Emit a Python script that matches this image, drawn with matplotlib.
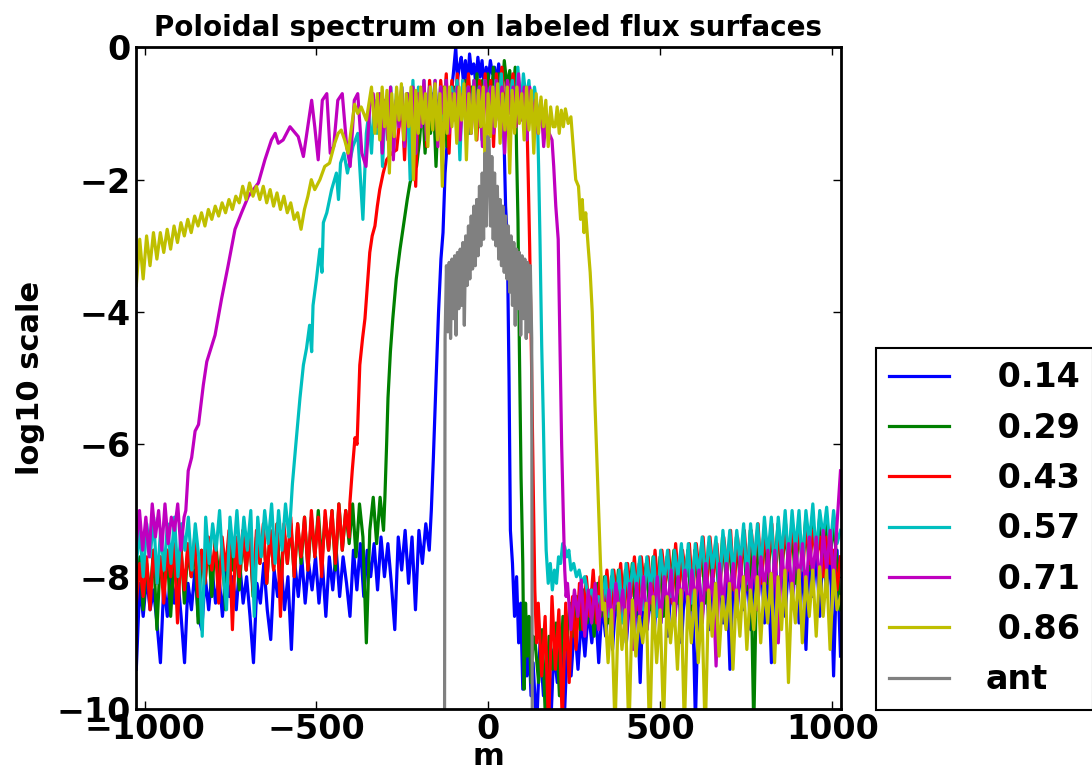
import numpy as np
import matplotlib
matplotlib.use("Agg")
import matplotlib.pyplot as plt

# surfaces (legend labels) and colours
labels = [" 0.14", " 0.29", " 0.43", " 0.57", " 0.71", " 0.86", "ant"]
colors = ["#0000ff", "#008000", "#ff0000", "#00bfbf", "#bf00bf", "#bfbf00", "#808080"]

# each spectrum: pieces are either (m_start, m_end, values on a regular m grid)
# or a list of (m, value) points
blue = [
    (-1024, -172, [-9.4, -8.1, -8.6, -8.0, -8.5, -8.2, -8.7, -9.3, -8.1, -8.6,
                   -7.9, -8.4, -8.0, -8.6, -9.3, -8.1, -8.5, -7.9, -8.6, -8.8,
                   -8.0, -8.5, -7.9, -8.4, -8.0, -8.6, -7.9, -8.3, -8.0, -8.5,
                   -7.8, -8.4, -8.0, -8.6, -9.3, -8.1, -8.4, -7.8, -8.5, -8.95,
                   -7.9, -8.3, -7.8, -8.5, -8.0, -9.1, -7.8, -8.3, -7.7, -8.4,
                   -7.8, -8.2, -7.7, -8.4, -7.8, -8.6, -7.7, -8.2, -7.6, -8.3,
                   -7.7, -8.1, -8.6, -7.6, -8.2, -7.5, -8.3, -7.6, -8.0, -7.5,
                   -8.2, -7.4, -8.0, -7.5, -8.1, -8.8, -7.4, -7.9, -7.3, -8.1,
                   -7.4, -8.5, -7.3, -7.8, -7.2, -7.6]),
    [(-166, -7.0), (-160, -6.2), (-152, -5.0), (-145, -4.0), (-138, -3.2), (-132, -2.8),
     (-126, -1.9), (-118, -1.3), (-110, -0.8), (-102, -0.4), (-95, 0.0), (-90, -0.5)],
    (-85, 42, [-0.3, -0.15, -0.5, -0.2, -0.6, -0.1, -0.4, -0.25, -0.55, -0.15, -0.45, -0.2,
               -0.6, -0.3, -0.5, -0.2, -0.4, -0.3, -0.55, -0.25, -0.5, -0.7]),
    [(46, -1.5), (50, -2.4), (55, -2.9), (60, -5.0), (64, -7.3), (70, -7.8), (76, -8.6),
     (82, -8.0), (88, -9.0), (94, -8.4), (100, -9.7), (106, -8.8), (112, -9.5), (118, -9.0),
     (124, -9.8)],
    (130, 1024, [-9.3, -10.3, -9.0, -9.8, -9.2, -10.4, -9.1, -9.6, -9.0, -10.2,
                 -8.9, -9.5, -8.7, -9.4, -8.6, -9.2, -8.5, -9.0, -8.4, -9.3,
                 -8.4, -8.9, -8.3, -9.1, -8.3, -8.8, -8.2, -9.0, -8.3, -8.7,
                 -8.2, -9.6, -8.1, -8.8, -8.2, -8.9, -8.1, -8.7, -8.0, -8.9,
                 -8.1, -8.6, -8.0, -9.0, -8.0, -8.7, -7.9, -10.2, -8.0, -8.6,
                 -7.9, -8.8, -8.0, -8.5, -7.9, -8.7, -7.9, -9.4, -7.9, -8.6,
                 -7.8, -8.5, -7.9, -8.8, -7.8, -8.5, -7.7, -8.7, -7.8, -9.3,
                 -7.7, -8.4, -7.8, -8.6, -7.7, -8.4, -7.6, -8.7, -7.7, -9.1,
                 -7.6, -8.3, -7.6, -8.6, -7.5, -8.3, -7.5, -9.5, -7.6, -9.2]),
]

green = [
    (-1024, -305, [-8.2, -7.7, -8.5, -7.8, -8.3, -7.6, -8.8, -7.7, -8.2, -7.6,
                   -8.6, -7.7, -8.1, -7.5, -8.4, -7.6, -8.0, -7.5, -8.7, -7.6,
                   -8.1, -7.5, -8.3, -7.4, -8.0, -7.6, -8.5, -7.4, -7.9, -7.5,
                   -8.2, -7.4, -7.9, -7.3, -8.3, -7.4, -7.8, -7.3, -8.1, -7.3,
                   -7.9, -7.2, -8.2, -7.3, -7.8, -7.2, -8.0, -7.2, -7.8, -7.1,
                   -7.9, -7.1, -7.7, -7.0, -7.8, -7.1, -7.6, -7.0, -7.9, -6.9,
                   -7.6, -7.0, -7.5, -6.9, -7.7, -6.9, -7.4, -9.0, -7.3, -6.8,
                   -7.5, -6.8, -7.3]),
    [(-301, -6.8), (-296, -6.0), (-292, -5.3), (-285, -4.6), (-278, -4.1), (-268, -3.5),
     (-257, -3.05), (-250, -2.8), (-243, -2.55), (-236, -2.3), (-228, -2.05), (-218, -1.85),
     (-209, -1.8)],
    (-200, 78, [-1.4, -0.8, -1.6, -0.9, -1.3, -0.7, -1.8, -0.8, -1.2, -0.6, -1.5, -0.7,
                -1.1, -0.6, -1.4, -0.7, -1.0, -0.5, -1.3, -0.6, -0.9, -0.4, -1.2, -0.5,
                -0.8, -0.4, -1.0, -0.3, -0.7, -0.4, -0.9, -0.2, -0.6, -0.35, -0.8, -0.3]),
    [(82, -1.6), (86, -2.6), (90, -4.5), (95, -6.5), (100, -7.8), (104, -9.7), (108, -8.4),
     (113, -9.2), (118, -8.6), (124, -9.6), (130, -8.9)],
    (136, 1024, [-9.0, -9.6, -8.8, -10.2, -8.9, -9.4, -8.7, -9.8, -8.6, -9.1,
                 -8.4, -8.9, -8.3, -8.8, -8.2, -8.7, -8.2, -8.9, -8.1, -8.6,
                 -8.0, -8.7, -8.0, -8.5, -7.9, -8.6, -7.9, -8.4, -7.8, -8.6,
                 -7.8, -8.3, -7.8, -8.5, -7.7, -8.3, -7.7, -8.6, -7.7, -8.2,
                 -7.6, -8.4, -7.7, -8.2, -7.6, -8.5, -7.6, -8.1, -7.5, -8.4,
                 -7.5, -8.1, -7.5, -8.3, -7.4, -8.0, -7.5, -8.2, -7.4, -8.0,
                 -7.4, -8.2, -7.3, -10.3, -7.4, -7.9, -7.3, -8.1, -7.3, -7.9,
                 -7.2, -8.0, -7.3, -7.8, -7.2, -8.1, -7.2, -7.8, -7.1, -7.9,
                 -7.2, -7.7, -7.1, -7.9, -7.1, -7.7, -7.2, -7.8, -8.5]),
]

red = [
    (-1024, -405, [-8.4, -7.8, -8.3, -7.7, -8.5, -7.6, -8.1, -7.7, -8.4, -7.6,
                   -8.0, -7.5, -8.7, -7.6, -8.2, -7.5, -8.0, -7.4, -8.3, -7.6,
                   -8.1, -7.4, -7.9, -7.5, -8.4, -7.4, -7.9, -7.3, -8.8, -7.4,
                   -8.0, -7.3, -7.9, -7.4, -8.2, -7.3, -7.8, -7.2, -8.1, -7.3,
                   -7.9, -7.2, -8.6, -7.2, -7.8, -7.1, -8.0, -7.2, -7.7, -7.1,
                   -7.9, -7.0, -7.7, -7.1, -8.0, -7.0, -7.6, -7.0, -7.8, -6.9,
                   -7.6, -7.0, -7.4]),
    [(-403, -6.9), (-396, -6.4), (-388, -5.9), (-382, -6.0), (-374, -4.8), (-366, -4.4),
     (-359, -4.1), (-352, -3.6), (-345, -3.1), (-338, -2.85), (-330, -2.7), (-323, -2.4),
     (-316, -2.15), (-306, -1.9), (-296, -1.7), (-282, -1.6), (-267, -1.55)],
    (-260, 112, [-1.2, -0.8, -1.7, -0.7, -1.3, -0.6, -2.1, -0.7, -1.2, -0.6, -1.5, -0.5,
                 -1.1, -0.6, -1.4, -0.5, -1.0, -0.4, -1.6, -0.5, -1.0, -0.4, -1.3, -0.5,
                 -0.9, -0.4, -1.1, -0.6, -1.4, -0.5, -0.9, -0.4, -1.2, -0.5, -1.5, -0.4,
                 -0.9, -0.3, -1.1, -0.5, -0.8, -0.4, -1.2, -0.5, -0.9, -0.6, -1.1]),
    [(116, -2.0), (120, -3.0), (125, -4.6), (130, -6.5), (135, -8.2), (140, -9.0)],
    (145, 1024, [-8.4, -9.5, -8.6, -10.3, -8.3, -9.4, -8.5, -10.2, -8.4, -9.6,
                 -8.3, -9.1, -8.1, -8.8, -8.0, -8.6, -7.9, -8.7, -8.0, -8.5,
                 -7.9, -8.6, -7.9, -8.4, -7.8, -8.6, -7.8, -8.3, -7.7, -8.5,
                 -7.7, -8.2, -7.7, -8.4, -7.6, -8.3, -7.6, -8.1, -7.6, -8.4,
                 -7.5, -8.2, -7.6, -8.0, -7.5, -8.3, -7.5, -8.0, -7.4, -8.2,
                 -7.4, -8.0, -7.5, -8.1, -7.4, -7.9, -7.3, -8.2, -7.4, -7.9,
                 -7.3, -8.0, -7.3, -7.8, -7.2, -8.1, -7.3, -7.8, -7.2, -8.0,
                 -7.3, -7.8, -7.2, -7.9, -7.2, -7.7, -7.3, -7.9, -7.2, -7.8,
                 -7.3, -7.7, -7.4, -8.0, -7.4, -7.8, -7.6, -8.2, -7.7]),
]

cyan = [
    (-1024, -580, [-7.8, -7.3, -8.0, -7.2, -7.7, -7.1, -8.1, -7.3, -7.9, -7.2,
                   -7.8, -7.1, -8.0, -7.2, -7.6, -7.1, -7.9, -7.2, -7.7, -8.9,
                   -7.1, -7.8, -7.2, -7.6, -7.0, -7.9, -8.5, -7.1, -7.7, -7.0,
                   -7.8, -7.1, -7.6, -7.0, -8.6, -7.1, -7.7, -7.0, -7.5, -6.9,
                   -7.8, -7.0, -7.6, -6.9, -7.4]),
    [(-577, -7.2), (-570, -6.6), (-560, -6.0), (-548, -5.3), (-538, -4.8), (-529, -4.55),
     (-520, -4.2), (-514, -4.6), (-510, -3.9), (-500, -3.5), (-490, -3.05), (-484, -3.4),
     (-480, -2.65), (-470, -2.5), (-456, -2.15), (-442, -1.9), (-436, -2.3), (-430, -1.75),
     (-420, -1.6), (-410, -1.9), (-394, -1.5), (-380, -1.3), (-365, -2.6), (-355, -1.3)],
    (-348, 142, [-1.0, -1.6, -0.8, -1.3, -0.7, -1.8, -0.8, -1.2, -0.6, -1.5, -0.7, -1.1,
                 -0.6, -1.4, -0.7, -2.0, -0.5, -1.6, -0.6, -1.2, -0.5, -1.4, -0.6, -1.0,
                 -0.5, -1.3, -0.6, -1.1, -0.5, -1.2, -0.6, -0.9, -0.5, -1.7, -0.5, -1.1,
                 -0.6, -1.3, -0.5, -1.0, -0.6, -1.4, -0.5, -0.9, -0.6, -1.2, -0.5, -1.0,
                 -0.4, -1.3, -0.6, -0.9, -0.5, -1.2, -0.3, -1.0, -0.4, -0.8, -0.5, -1.1,
                 -0.6, -0.9]),
    [(146, -1.8), (150, -2.9), (155, -4.5), (160, -5.7), (164, -6.8), (168, -7.6), (174, -8.1),
     (180, -7.8), (186, -8.2), (192, -7.9), (198, -8.1), (204, -7.7), (210, -7.8), (216, -7.5),
     (222, -7.55), (228, -7.7), (234, -7.6), (240, -7.9), (248, -7.8), (256, -8.0), (264, -7.9),
     (272, -8.1), (280, -8.0), (290, -8.3), (300, -8.2), (310, -8.4), (320, -8.3)],
    (330, 1024, [-8.5, -8.0, -8.6, -7.9, -8.4, -7.9, -8.7, -7.8, -8.3, -7.8,
                 -8.2, -7.7, -8.5, -7.7, -8.2, -7.7, -8.6, -7.6, -8.1, -7.6,
                 -8.3, -7.6, -8.0, -7.5, -8.2, -7.5, -8.4, -7.5, -8.0, -7.4,
                 -8.1, -7.4, -7.9, -7.4, -8.3, -7.3, -7.9, -7.3, -8.0, -7.3,
                 -7.8, -7.2, -8.1, -7.2, -7.8, -7.2, -7.9, -7.1, -7.7, -7.1,
                 -8.0, -7.1, -7.7, -7.0, -7.8, -7.0, -7.6, -7.0, -7.9, -7.0,
                 -7.5, -6.9, -7.7, -7.0, -7.4, -6.95, -7.6, -7.0, -7.5, -7.3]),
]

magenta = [
    (-1024, -885, [-7.5, -7.0, -7.6, -7.1, -7.7, -6.9, -7.4, -7.0, -7.6, -6.9, -7.5, -7.1,
                   -7.3, -6.9, -7.6, -7.1]),
    [(-880, -7.0), (-873, -6.4), (-863, -6.2), (-853, -5.8), (-843, -5.7), (-829, -5.1),
     (-819, -4.75), (-795, -4.35), (-776, -3.8), (-757, -3.3), (-737, -2.75), (-718, -2.5),
     (-698, -2.25), (-669, -2.05), (-650, -1.7), (-631, -1.4), (-620, -1.3), (-611, -1.45),
     (-597, -1.4), (-577, -1.2), (-553, -1.35), (-538, -1.65), (-528, -1.3), (-514, -0.8),
     (-505, -1.2), (-495, -1.7), (-483, -0.8), (-470, -0.7), (-460, -1.6), (-450, -1.5),
     (-438, -0.8), (-425, -0.7), (-412, -1.5), (-402, -1.8), (-390, -0.8), (-380, -0.7),
     (-368, -1.6), (-356, -1.8), (-345, -0.9), (-335, -0.7)],
    (-325, 185, [-1.2, -0.7, -1.6, -0.8, -1.4, -0.6, -1.7, -0.8, -1.2, -0.6, -1.5, -0.7,
                 -1.1, -0.6, -1.6, -0.7, -1.2, -0.5, -1.4, -0.6, -1.1, -0.5, -1.5, -0.6,
                 -1.0, -0.5, -1.3, -0.7, -1.1, -0.6, -1.4, -0.7, -1.0, -0.6, -1.3, -0.5,
                 -1.2, -0.6, -1.5, -0.5, -1.0, -0.6, -1.3, -0.5, -1.1, -0.6, -1.6, -0.5,
                 -1.0, -0.6, -1.2, -0.4, -1.1, -0.6, -1.4, -0.6, -1.0, -0.8, -1.3, -0.8,
                 -1.5, -1.0, -1.3, -1.4]),
    [(190, -1.8), (196, -2.4), (203, -2.9), (208, -4.5), (213, -6.0), (218, -7.1), (222, -7.9),
     (226, -8.3)],
    (230, 1024, [-8.1, -8.8, -8.2, -8.6, -8.05, -8.9, -8.2, -8.7, -8.1, -8.8,
                 -8.2, -8.7, -8.2, -8.8, -8.1, -8.6, -8.2, -8.9, -8.1, -9.1,
                 -8.1, -8.6, -8.0, -8.8, -8.1, -8.5, -8.0, -8.7, -8.0, -8.5,
                 -7.9, -8.7, -8.0, -8.4, -7.9, -8.6, -7.9, -8.4, -7.9, -8.7,
                 -7.8, -8.4, -7.9, -9.35, -7.8, -8.5, -7.8, -8.3, -7.8, -8.6,
                 -7.7, -8.4, -7.8, -8.3, -7.7, -8.5, -7.7, -8.2, -7.6, -8.4,
                 -7.6, -9.0, -7.6, -8.2, -7.5, -8.4, -7.5, -8.1, -7.5, -8.3,
                 -7.4, -8.0, -7.4, -8.2, -7.3, -7.9, -7.3, -8.1, -7.2, -6.4]),
]

yellow = [
    (-1024, -505, [-3.6, -2.9, -3.5, -2.85, -3.3, -2.8, -3.2, -2.8, -3.1, -2.75,
                   -3.05, -2.7, -2.95, -2.65, -2.85, -2.6, -2.8, -2.55, -2.7, -2.5,
                   -2.7, -2.45, -2.6, -2.4, -2.55, -2.35, -2.5, -2.3, -2.45, -2.25,
                   -2.35, -2.1, -2.3, -2.05, -2.25, -2.1, -2.3, -2.1, -2.35, -2.15,
                   -2.4, -2.2, -2.45, -2.25, -2.5, -2.35, -2.6, -2.5, -2.75, -2.45,
                   -2.25, -2.0, -2.15]),
    [(-490, -2.0), (-476, -1.8), (-462, -1.75), (-447, -1.45), (-437, -1.3), (-428, -1.25),
     (-418, -1.4), (-408, -1.6), (-398, -1.2), (-389, -0.86), (-380, -1.0), (-370, -0.9),
     (-355, -1.1), (-340, -0.6)],
    (-330, 188, [-1.3, -0.7, -1.4, -0.6, -1.2, -0.65, -1.9, -0.7, -1.35, -0.6,
                 -1.1, -0.55, -1.4, -0.7, -1.2, -0.6, -2.0, -0.65, -1.3, -0.6,
                 -1.15, -0.7, -1.5, -0.6, -1.25, -0.55, -1.4, -0.7, -2.1, -0.6,
                 -1.3, -0.6, -1.2, -0.7, -1.45, -0.6, -1.1, -0.55, -1.7, -0.7,
                 -1.3, -0.6, -1.4, -0.65, -1.2, -0.6, -2.2, -0.7, -1.35, -0.6,
                 -1.2, -0.55, -1.45, -0.7, -1.25, -0.6, -1.9, -0.65, -1.3, -0.6,
                 -1.15, -0.7, -1.4, -0.6, -1.25, -0.65, -1.6, -0.7, -1.3, -0.75,
                 -1.2, -0.8, -1.5, -0.9, -1.2]),
    [(194, -1.2), (200, -0.9), (206, -1.3), (212, -0.95), (218, -1.2), (224, -0.93),
     (232, -1.15), (240, -1.05), (248, -1.6), (254, -2.0), (262, -2.1), (268, -2.6),
     (273, -2.3), (278, -2.8), (283, -2.5), (290, -3.0), (296, -3.4), (302, -4.0),
     (310, -5.4), (318, -6.6), (326, -7.8), (332, -8.5)],
    (338, 1024, [-8.4, -9.3, -8.5, -10.3, -8.4, -9.1, -8.5, -10.4, -8.35, -9.2,
                 -8.6, -9.0, -8.4, -10.5, -8.3, -9.3, -8.5, -10.2, -8.3, -9.0,
                 -8.4, -9.4, -8.2, -10.3, -8.3, -9.0, -8.2, -9.3, -8.4, -10.4,
                 -8.2, -8.9, -8.1, -9.2, -8.3, -8.8, -8.1, -9.4, -8.2, -8.9,
                 -8.0, -9.1, -8.2, -8.8, -8.0, -9.0, -8.1, -8.7, -7.95, -9.3,
                 -8.0, -8.8, -7.9, -9.6, -8.1, -8.7, -7.9, -9.0, -8.0, -8.6,
                 -7.9, -8.9, -7.85, -8.6, -7.9, -9.1, -7.9, -8.5, -8.3]),
]

antenna = [
    [(-128, -12.0)],
    (-126, 126, [-4.4, -3.3, -4.3, -3.25, -4.4, -3.2, -4.1, -3.15, -4.35, -3.1, -3.95, -3.05, -3.9,
                 -2.95, -4.2, -2.85, -3.6, -2.7, -3.5, -2.55, -3.35, -2.4, -3.3, -2.3, -3.15, -2.1,
                 -3.0, -1.9, -2.9, -1.6, -2.7, -1.35, -1.4, -2.7, -1.65, -2.9, -1.9, -3.0, -2.1, -3.2,
                 -2.3, -3.3, -2.4, -3.4, -2.55, -3.5, -2.7, -3.7, -2.85, -3.9, -2.95, -4.2, -3.05,
                 -3.95, -3.1, -4.35, -3.15, -4.1, -3.2, -4.4, -3.25, -4.3, -3.3, -4.4]),
    [(128, -12.0)],
]

series = [blue, green, red, cyan, magenta, yellow, antenna]


def build(pieces):
    ms, ys = [], []
    for p in pieces:
        if isinstance(p, tuple):
            m0, m1, vals = p
            ms.extend(np.linspace(m0, m1, len(vals)))
            ys.extend(vals)
        else:
            for m, v in p:
                ms.append(m)
                ys.append(v)
    return np.array(ms), np.array(ys)


plt.rcParams['font.family'] = ['DejaVu Sans']
plt.rcParams['font.weight'] = 'bold'

fig = plt.figure(figsize=(10.92, 7.76), dpi=100)
ax = fig.add_axes([0.1245, 0.0863, 0.6455, 0.8527])

for pieces, lab, col in zip(series, labels, colors):
    m, y = build(pieces)
    ax.plot(m, y, color=col, lw=2.3, label=lab)

ax.set_xlim(-1025, 1025)
ax.set_ylim(-10, 0)
ax.set_xticks([-1000, -500, 0, 500, 1000])
ax.set_yticks([0, -2, -4, -6, -8, -10])
ax.tick_params(direction='in', top=True, right=True, length=6, width=1,
               labelsize=24, pad=4)
ax.tick_params(axis='x', pad=3)
for lab in ax.get_xticklabels() + ax.get_yticklabels():
    lab.set_fontweight('bold')
for sp in ax.spines.values():
    sp.set_linewidth(2)

ax.set_title("Poloidal spectrum on labeled flux surfaces", fontsize=20,
             fontweight='bold', pad=8)
ax.set_xlabel("m", fontsize=22, fontweight='bold', labelpad=-3)
ax.set_ylabel("log10 scale", fontsize=22, fontweight='bold', labelpad=8)

leg = ax.legend(loc='upper left', bbox_to_anchor=(876 / 1092, 1 - 348 / 776),
                bbox_transform=fig.transFigure, prop={'size': 24, 'weight': 'bold'},
                handlelength=1.8, handletextpad=1.1, labelspacing=0.52,
                borderpad=0.4, borderaxespad=0, fancybox=False, framealpha=1)
leg.get_frame().set_edgecolor('black')
leg.get_frame().set_linewidth(1.5)

fig.savefig("out.png", dpi=100)
